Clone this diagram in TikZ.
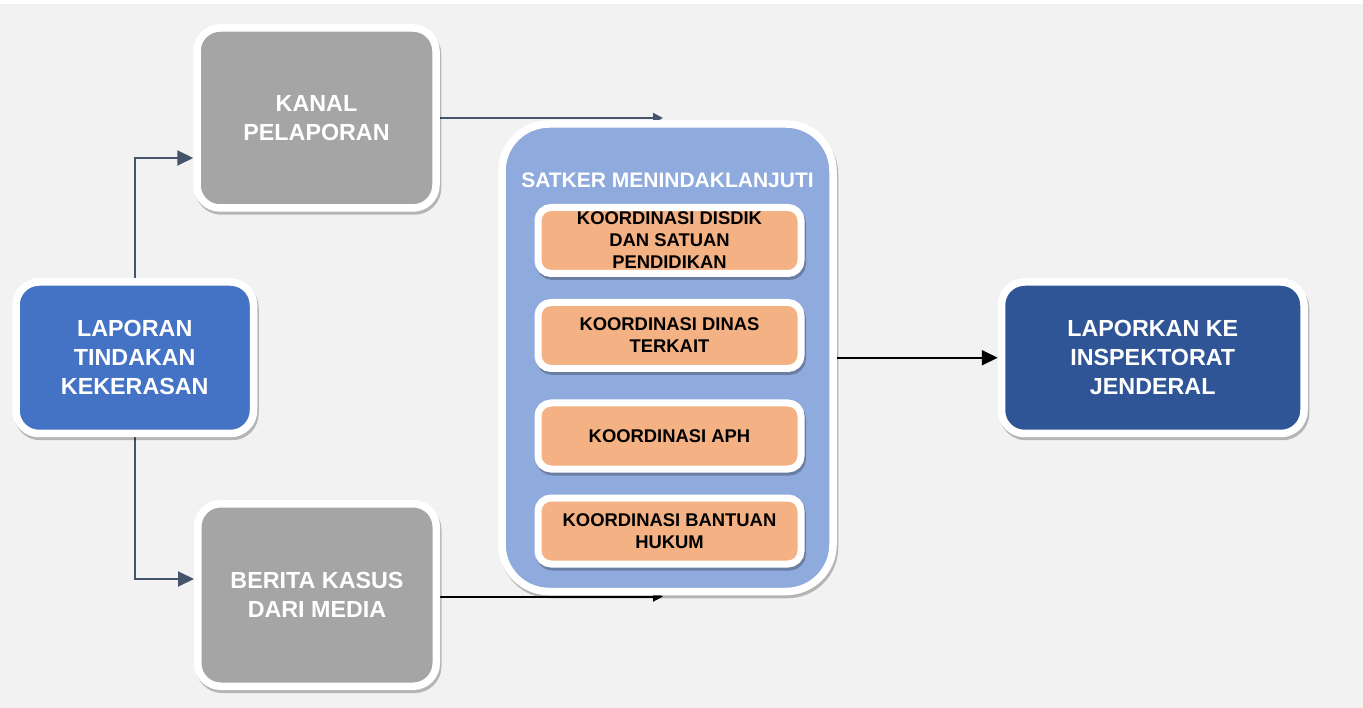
\documentclass[tikz,border=0pt]{standalone}
\usepackage{fontspec}
\setmainfont{Liberation Sans}
\usetikzlibrary{arrows.meta}
\definecolor{bgc}{HTML}{F2F2F2}
\definecolor{grayf}{HTML}{A5A5A5}
\definecolor{bluef}{HTML}{4472C4}
\definecolor{darkf}{HTML}{2F5597}
\definecolor{satf}{HTML}{8FAADC}
\definecolor{orf}{HTML}{F4B183}
\definecolor{connc}{HTML}{44546A}
\pgfdeclarelayer{background}
\pgfdeclarelayer{edges}
\pgfsetlayers{background,edges,main}
\begin{document}
\begin{tikzpicture}[x=1pt,y=-1pt,
  shadowed/.style={preaction={draw=black, draw opacity=0.25, line width=#1, transform canvas={xshift=1.5pt,yshift=-3pt}}},
  mainbox/.style={draw=white, line width=7.5pt, rounded corners=23pt, inner sep=0pt, align=center, text=white,
    font=\bfseries\fontsize{23.3}{29}\selectfont, shadowed=7.5pt},
  graybox/.style={mainbox, fill=grayf},
  bluebox/.style={mainbox, fill=bluef},
  darkbox/.style={mainbox, fill=darkf},
  satbox/.style={draw=white, line width=7.5pt, rounded corners=47pt, fill=satf, inner sep=0pt, shadowed=7.5pt},
  sattitle/.style={text=white, inner sep=0pt, font=\bfseries\fontsize{21}{25}\selectfont},
  orbox/.style={draw=white, line width=7pt, rounded corners=13pt, fill=orf, inner sep=0pt, align=center, text=black,
    minimum width=263pt, minimum height=66pt, font=\bfseries\fontsize{18.4}{22}\selectfont, shadowed=7pt},
  conn/.style={draw=connc, line width=2pt, -{Triangle[length=16pt,width=15pt]}},
  connsmall/.style={line width=2pt, -{Triangle[length=10pt,width=10pt]}},
]
\useasboundingbox (0,0) rectangle (1363,708);
\begin{pgfonlayer}{background}
\fill[white] (0,0) rectangle (1363,708);
\fill[bgc] (0,4) rectangle (1363,708);
\end{pgfonlayer}

\node[graybox, minimum width=239pt, minimum height=180pt] (kanal) at (316.5,118) {KANAL\\PELAPORAN};
\node[bluebox, minimum width=237.5pt, minimum height=151.5pt] (lapor) at (134.75,357.75) {LAPORAN\\TINDAKAN\\KEKERASAN};
\node[graybox, minimum width=238.5pt, minimum height=182.5pt] (berita) at (317,595) {BERITA KASUS\\DARI MEDIA};
\node[satbox, minimum width=331pt, minimum height=467.5pt] (satker) at (667.5,357.75) {};
\node[sattitle] (stitle) at (667.5,180) {SATKER MENINDAKLANJUTI};
\node[orbox] (o1) at (669.5,240.5) {KOORDINASI DISDIK\\DAN SATUAN\\PENDIDIKAN};
\node[orbox] (o2) at (669.5,335.5) {KOORDINASI DINAS\\TERKAIT};
\node[orbox] (o3) at (669.5,436) {KOORDINASI APH};
\node[orbox] (o4) at (669.5,531) {KOORDINASI BANTUAN\\HUKUM};
\node[darkbox, minimum width=302.5pt, minimum height=151.5pt] (lapk) at (1152.75,357.75) {LAPORKAN KE\\INSPEKTORAT\\JENDERAL};

\begin{pgfonlayer}{edges}
\draw[conn] (lapor.north) |- ([yshift=-40pt]kanal.west);
\draw[conn] (lapor.south) |- ([yshift=16pt]berita.west);
\coordinate (t1) at (663,118);
\draw[connsmall, draw=connc] (kanal.east) -- (t1);
\coordinate (t2) at (663,596.5);
\draw[connsmall, draw=black] (berita.east |- t2) -- (t2);
\draw[conn, draw=black] (satker.east) -- (lapk.west);
\end{pgfonlayer}
\end{tikzpicture}
\end{document}
